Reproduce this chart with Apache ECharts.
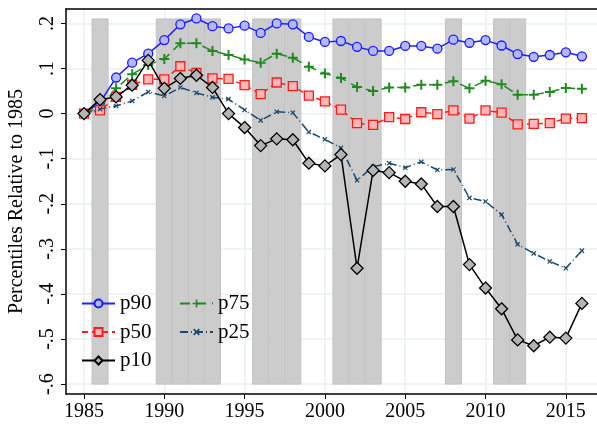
<!DOCTYPE html>
<html>
<head>
<meta charset="utf-8">
<script src="https://cdn.jsdelivr.net/npm/echarts@6/dist/echarts.min.js"></script>
<style>
  html, body { margin: 0; padding: 0; background: #fff; }
  #chart { width: 597px; height: 425px; }
</style>
</head>
<body>
<div id="chart"></div>
<script>
// years on the x axis
var years = [1985, 1986, 1987, 1988, 1989, 1990, 1991, 1992, 1993, 1994, 1995, 1996, 1997, 1998, 1999, 2000,
             2001, 2002, 2003, 2004, 2005, 2006, 2007, 2008, 2009, 2010, 2011, 2012, 2013, 2014, 2015, 2016];

// percentiles relative to 1985
var p90 = [0, 0.025, 0.080, 0.113, 0.133, 0.163, 0.198, 0.211, 0.194, 0.189, 0.195, 0.179, 0.200, 0.198, 0.170, 0.159,
           0.161, 0.148, 0.139, 0.139, 0.150, 0.150, 0.144, 0.164, 0.157, 0.163, 0.151, 0.132, 0.126, 0.130, 0.136, 0.127];
var p75 = [0, 0.015, 0.056, 0.087, 0.108, 0.121, 0.156, 0.156, 0.139, 0.130, 0.120, 0.113, 0.133, 0.124, 0.104, 0.089,
           0.079, 0.059, 0.050, 0.058, 0.058, 0.064, 0.064, 0.072, 0.056, 0.073, 0.065, 0.042, 0.042, 0.048, 0.057, 0.055];
var p50 = [0, 0.007, 0.037, 0.064, 0.076, 0.076, 0.105, 0.090, 0.078, 0.077, 0.063, 0.043, 0.069, 0.061, 0.040, 0.027,
           0.009, -0.021, -0.025, -0.008, -0.012, 0.003, -0.001, 0.007, -0.011, 0.007, 0.002, -0.024, -0.023, -0.021, -0.011, -0.010];
var p25 = [0, 0.010, 0.017, 0.028, 0.048, 0.039, 0.058, 0.046, 0.036, 0.032, 0.008, -0.015, 0.004, 0.002, -0.041, -0.057,
           -0.076, -0.148, -0.118, -0.110, -0.120, -0.107, -0.125, -0.124, -0.187, -0.195, -0.224, -0.290, -0.310, -0.328, -0.343, -0.304];
var p10 = [0, 0.031, 0.037, 0.063, 0.118, 0.056, 0.078, 0.085, 0.058, 0.000, -0.031, -0.071, -0.056, -0.058, -0.110, -0.116,
           -0.091, -0.343, -0.126, -0.131, -0.150, -0.156, -0.206, -0.206, -0.335, -0.387, -0.433, -0.502, -0.515, -0.496, -0.498, -0.421];

// shaded years (grey bands)
var shadeYears = [1986, 1990, 1991, 1992, 1993, 1996, 1997, 1998, 2001, 2002, 2003, 2008, 2011, 2012];
var shadeTop = 0.21;
var shadeBottom = -0.6;

// tick labels
var xTicks = [1985, 1990, 1995, 2000, 2005, 2010, 2015];
var yTicks = [-0.6, -0.5, -0.4, -0.3, -0.2, -0.1, 0, 0.1, 0.2];
var yTickLabels = ['-.6', '-.5', '-.4', '-.3', '-.2', '-.1', '0', '.1', '.2'];

var FONT = '"Liberation Serif", "Times New Roman", serif';
var plusPath = 'path://M4,0H6V4H10V6H6V10H4V6H0V4H4Z';

function pairs(vals) {
    return years.map(function (y, i) { return [y, vals[i]]; });
}

function yLabel(v) {
    for (var i = 0; i < yTicks.length; i++) {
        if (Math.abs(yTicks[i] - v) < 1e-6) return yTickLabels[i];
    }
    return '';
}

var myChart = echarts.init(document.getElementById('chart'));

var gridLine = { show: true, lineStyle: { color: '#e9f0f2', width: 1.5 } };
var legendText = { fontFamily: FONT, fontSize: 21, color: '#000' };

var option = {
    animation: false,
    grid: { left: 66, right: 0, top: 9, bottom: 31, outerBoundsMode: 'none', containLabel: false },
    legend: [
        {
            data: ['p90', 'p50', 'p10'],
            orient: 'vertical', left: 76, top: 288,
            itemWidth: 33, itemHeight: 10, itemGap: 7.5,
            textStyle: legendText
        },
        {
            data: ['p75', 'p25'],
            orient: 'vertical', left: 174, top: 288,
            itemWidth: 33, itemHeight: 10, itemGap: 7.5,
            textStyle: legendText
        }
    ],
    xAxis: [
        {
            type: 'value', min: 1983.88, max: 2016.94,
            axisLine: { show: true, onZero: false, lineStyle: { color: '#000', width: 1.5 } },
            axisTick: { show: true, length: 5, customValues: xTicks, lineStyle: { color: '#000' } },
            axisLabel: {
                customValues: xTicks, fontFamily: FONT, fontSize: 20, color: '#000', margin: 8,
                formatter: function (v) { return String(v); }
            },
            splitLine: gridLine
        },
        {
            type: 'value', position: 'top', min: 1983.88, max: 2016.94,
            axisLine: { show: true, onZero: false, lineStyle: { color: '#000', width: 1.5 } },
            axisTick: { show: false }, axisLabel: { show: false }, splitLine: { show: false }
        }
    ],
    yAxis: {
        type: 'value', min: -0.622, max: 0.232,
        name: 'Percentiles Relative to 1985',
        nameLocation: 'middle', nameGap: 39, nameRotate: 90,
        nameTextStyle: { fontFamily: FONT, fontSize: 20, color: '#000' },
        axisLine: { show: true, onZero: false, lineStyle: { color: '#000', width: 1.5 } },
        axisTick: { show: true, length: 5, customValues: yTicks, lineStyle: { color: '#000' } },
        axisLabel: { customValues: yTicks, rotate: 90, formatter: yLabel, fontFamily: FONT, fontSize: 20, color: '#000', margin: 8 },
        splitLine: gridLine
    },
    series: [
        {
            type: 'custom', name: 'shade', z: 1, silent: true,
            data: shadeYears.map(function (y) { return [y]; }),
            renderItem: function (params, api) {
                var x = api.value(0);
                var a = api.coord([x - 0.5, shadeTop]);
                var b = api.coord([x + 0.5, shadeBottom]);
                return {
                    type: 'rect',
                    shape: { x: a[0], y: a[1], width: b[0] - a[0], height: b[1] - a[1] },
                    style: { fill: '#cccccc', stroke: '#c3c3c3', lineWidth: 1 }
                };
            }
        },
        {
            name: 'p90', type: 'line', data: pairs(p90), z: 3,
            symbol: 'circle', symbolSize: 9,
            lineStyle: { color: '#2020ff', width: 1.5 },
            itemStyle: { color: '#b3b8ff', borderColor: '#1a1aff', borderWidth: 1.3 }
        },
        {
            name: 'p75', type: 'line', data: pairs(p75), z: 4,
            symbol: plusPath, symbolSize: 10,
            lineStyle: { color: '#1f8a1f', width: 1.5, type: [10, 6] },
            itemStyle: { color: '#1f8a1f', borderWidth: 0 }
        },
        {
            name: 'p50', type: 'line', data: pairs(p50), z: 5,
            symbol: 'rect', symbolSize: 9,
            lineStyle: { color: '#ff2020', width: 1.5, type: [6, 4] },
            itemStyle: { color: '#ffb6b6', borderColor: '#ff1a1a', borderWidth: 1.3 }
        },
        {
            name: 'p25', type: 'line', data: pairs(p25), z: 6,
            symbol: plusPath, symbolSize: 6, symbolRotate: 45,
            lineStyle: { color: '#1a476f', width: 1.5, type: [8, 3, 1, 3] },
            itemStyle: { color: '#1a476f', borderWidth: 0 }
        },
        {
            name: 'p10', type: 'line', data: pairs(p10), z: 7,
            symbol: 'diamond', symbolSize: 12,
            lineStyle: { color: '#000', width: 1.5 },
            itemStyle: { color: '#b4b4b4', borderColor: '#000', borderWidth: 1.3 }
        }
    ]
};

myChart.setOption(option);
</script>
</body>
</html>
